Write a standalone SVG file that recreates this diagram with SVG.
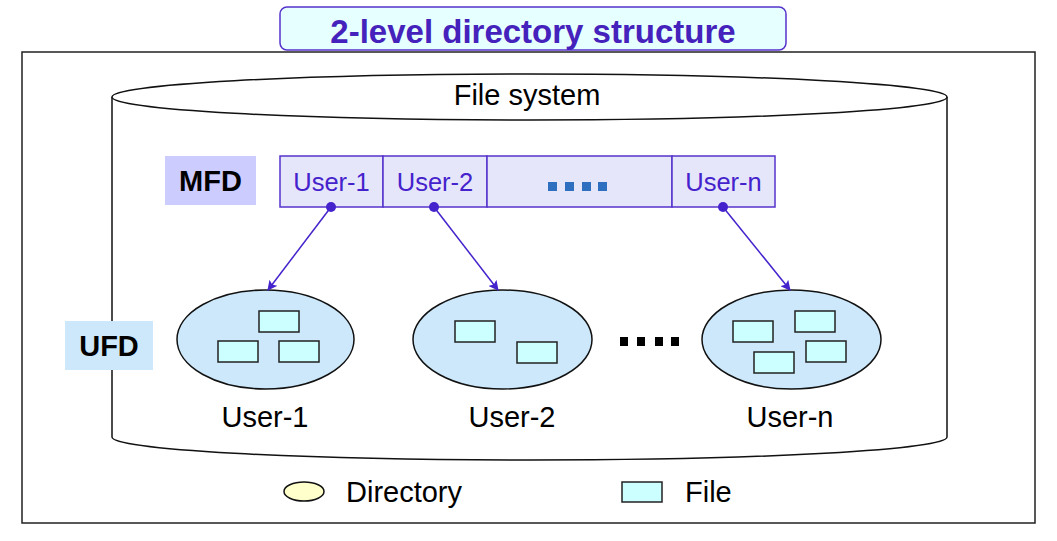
<svg xmlns="http://www.w3.org/2000/svg" width="1057" height="541" viewBox="0 0 1057 541">
  <style>
    .sans { font-family: "Liberation Sans", Arial, sans-serif; }
    .frame { fill: #ffffff; stroke: #222222; stroke-width: 1.5; }
    .cyl { fill: #ffffff; stroke: #111111; stroke-width: 1.5; }
    .cell { fill: #e6e6fb; stroke: #5533cc; stroke-width: 1.5; }
    .cellText { font-size: 25.5px; fill: #4422cc; text-anchor: middle; }
    .dir { fill: #cce8fa; stroke: #111111; stroke-width: 1.5; }
    .file { fill: #ccffff; stroke: #222222; stroke-width: 1.5; }
    .label { font-size: 29px; fill: #000000; text-anchor: middle; }
    .tag { font-size: 29px; font-weight: bold; fill: #000000; text-anchor: middle; }
    .link { stroke: #4422cc; stroke-width: 1.5; fill: none; marker-end: url(#arrow); }
    .dot { fill: #4422cc; }
  </style>
  <defs>
    <marker id="arrow" viewBox="0 0 10 10" refX="9" refY="5" markerWidth="10" markerHeight="10" markerUnits="userSpaceOnUse" orient="auto">
      <path d="M0,0 L10,5 L0,10 L2,5 Z" fill="#4422cc"/>
    </marker>
  </defs>

  <rect width="1057" height="541" fill="#ffffff"/>

  <!-- outer frame -->
  <rect class="frame" x="22" y="52" width="1013" height="471"/>

  <!-- title banner -->
  <g id="title">
    <rect x="280" y="7" width="506" height="43" rx="7" fill="#e6ffff" stroke="#5533cc" stroke-width="1.5"/>
    <text class="sans" x="533" y="43" font-size="33" font-weight="bold" fill="#4422bb" text-anchor="middle">2-level directory structure</text>
  </g>

  <!-- file system cylinder -->
  <g id="file-system">
    <path class="cyl" d="M112,97 L112,437 A417.5,23 0 0 0 947,437 L947,97"/>
    <ellipse class="cyl" cx="529.5" cy="97" rx="417.5" ry="23"/>
    <text class="sans" x="527" y="105" font-size="29" fill="#000000" text-anchor="middle">File system</text>
  </g>

  <!-- MFD tag -->
  <g id="mfd-tag">
    <rect x="165" y="156" width="91" height="49" fill="#ccccff"/>
    <text class="sans tag" x="210.5" y="191">MFD</text>
  </g>

  <!-- master file directory table -->
  <g id="mfd">
    <rect class="cell" x="280" y="156" width="103" height="51"/>
    <rect class="cell" x="383" y="156" width="104" height="51"/>
    <rect class="cell" x="487" y="156" width="185" height="51"/>
    <rect class="cell" x="672" y="156" width="103" height="51"/>
    <text class="sans cellText" x="331.5" y="191">User-1</text>
    <text class="sans cellText" x="435" y="191">User-2</text>
    <text class="sans cellText" x="723.5" y="191">User-n</text>
    <g fill="#2f6fbf">
      <rect x="548" y="182" width="9" height="9"/>
      <rect x="565" y="182" width="9" height="9"/>
      <rect x="582" y="182" width="9" height="9"/>
      <rect x="598" y="182" width="9" height="9"/>
    </g>
  </g>

  <!-- UFD tag -->
  <g id="ufd-tag">
    <rect x="65" y="321" width="88" height="49" fill="#cce8fa"/>
    <text class="sans tag" x="109" y="356">UFD</text>
  </g>

  <!-- user directories -->
  <g id="ufd-1">
    <ellipse class="dir" cx="265.5" cy="339.5" rx="88.5" ry="49.5"/>
    <rect class="file" x="259" y="311" width="40" height="21"/>
    <rect class="file" x="218" y="341" width="40" height="21"/>
    <rect class="file" x="279" y="341" width="40" height="21"/>
    <text class="sans label" x="265" y="427">User-1</text>
  </g>

  <g id="ufd-2">
    <ellipse class="dir" cx="502.5" cy="339.5" rx="89.5" ry="49.5"/>
    <rect class="file" x="455" y="321" width="40" height="21"/>
    <rect class="file" x="517" y="342" width="40" height="21"/>
    <text class="sans label" x="512" y="427">User-2</text>
  </g>

  <g id="ellipsis">
    <rect x="620" y="337" width="8" height="9" fill="#000000"/>
    <rect x="637" y="337" width="8" height="9" fill="#000000"/>
    <rect x="655" y="337" width="8" height="9" fill="#000000"/>
    <rect x="671" y="337" width="8" height="9" fill="#000000"/>
  </g>

  <g id="ufd-n">
    <ellipse class="dir" cx="791.5" cy="339.5" rx="89.5" ry="49.5"/>
    <rect class="file" x="733" y="321" width="40" height="21"/>
    <rect class="file" x="795" y="311" width="40" height="21"/>
    <rect class="file" x="806" y="341" width="40" height="21"/>
    <rect class="file" x="754" y="352" width="40" height="21"/>
    <text class="sans label" x="790" y="427">User-n</text>
  </g>

  <!-- pointers from MFD entries to user directories -->
  <g id="connectors">
    <circle class="dot" cx="331" cy="207" r="5"/>
    <circle class="dot" cx="434" cy="207" r="5"/>
    <circle class="dot" cx="723" cy="207" r="5"/>
    <line class="link" x1="331" y1="207" x2="268" y2="290"/>
    <line class="link" x1="434" y1="207" x2="498" y2="290"/>
    <line class="link" x1="723" y1="207" x2="790" y2="290"/>
  </g>

  <!-- legend -->
  <g id="legend">
    <ellipse cx="304" cy="491.5" rx="20" ry="9.5" fill="#ffffcc" stroke="#111111" stroke-width="1.5"/>
    <text class="sans" x="346" y="502" font-size="29" fill="#000000">Directory</text>
    <rect class="file" x="622" y="482" width="40" height="20"/>
    <text class="sans" x="685" y="502" font-size="29" fill="#000000">File</text>
  </g>
</svg>
